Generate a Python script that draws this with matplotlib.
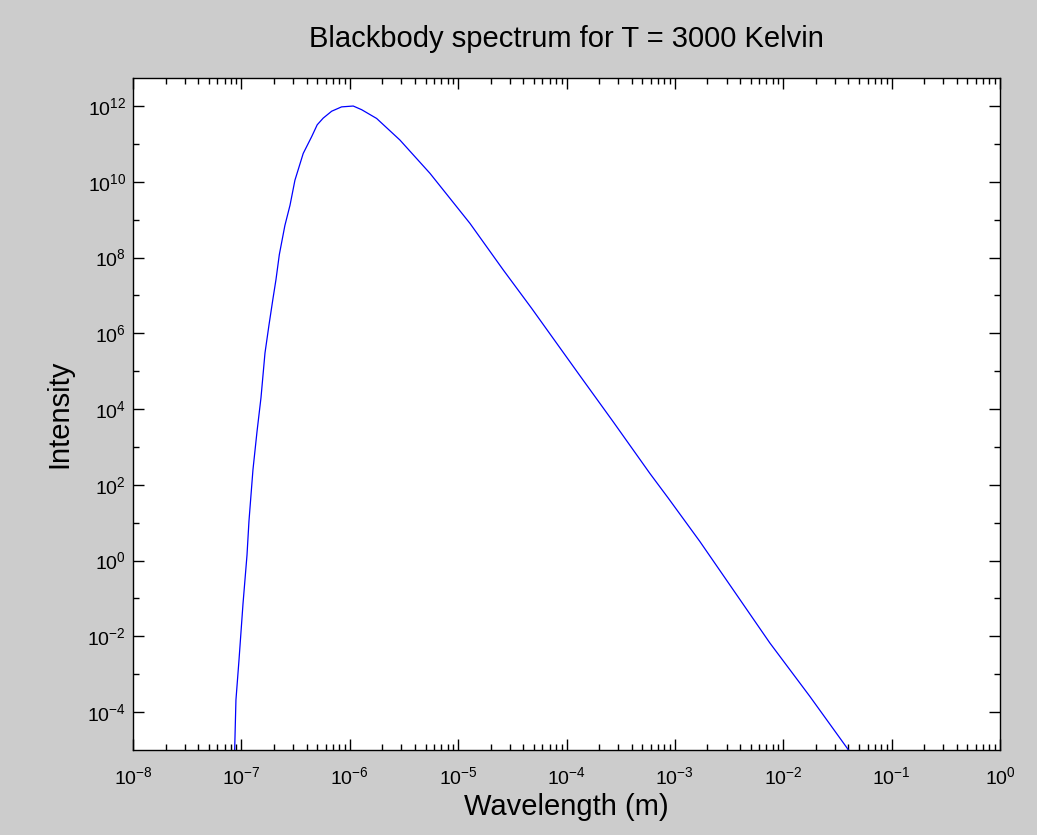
import matplotlib
matplotlib.use("Agg")
import matplotlib.pyplot as plt
from matplotlib.ticker import FixedLocator, LogFormatterMathtext, NullFormatter

# values (wavelength in m, intensity)
wavelength = [8.67e-8, 8.91e-8, 9.51e-8, 1.035e-7, 1.127e-7, 1.175e-7, 1.279e-7,
              1.393e-7, 1.517e-7, 1.651e-7, 1.798e-7, 1.955e-7, 2.085e-7, 2.24e-7,
              2.52e-7, 2.81e-7, 3.12e-7, 3.72e-7, 4.45e-7, 5.01e-7, 5.69e-7,
              6.81e-7, 8.41e-7, 1.077e-6, 1.288e-6, 1.77e-6, 2.90e-6, 5.50e-6,
              1.285e-5, 2.61e-5, 4.76e-5, 1.33e-4, 2.70e-4, 5.88e-4, 8.67e-4,
              1.70e-3, 3.45e-3, 7.52e-3, 1.76e-2, 4.0e-2]
intensity = [1.0e-5, 2.1e-4, 2.4e-3, 7.2e-2, 1.4, 11, 250,
             2.5e3, 2.0e4, 3.0e5, 1.66e6, 8.1e6, 2.6e7, 1.2e8,
             7.0e8, 2.4e9, 1.1e10, 5.6e10, 1.55e11, 3.2e11, 4.8e11,
             7.3e11, 9.5e11, 1.0e12, 8.0e11, 4.7e11, 1.27e11, 1.67e10,
             8.0e8, 4.7e7, 4.6e6, 7.6e4, 4.6e3, 200, 45,
             3.2, 0.17, 6.7e-3, 2.6e-4, 1.0e-5]

x_major = [1e-8, 1e-7, 1e-6, 1e-5, 1e-4, 1e-3, 1e-2, 1e-1, 1e0]
y_major = [1e-4, 1e-2, 1e0, 1e2, 1e4, 1e6, 1e8, 1e10, 1e12]
y_minor = [1e-3, 1e-1, 1e1, 1e3, 1e5, 1e7, 1e9, 1e11]

plt.rcParams['font.family'] = ['Liberation Sans', 'DejaVu Sans']

fig = plt.figure(figsize=(10.37, 8.35), dpi=100, facecolor='#cccccc')
ax = fig.add_axes([133/1037, 85/835, 867/1037, 672/835])
ax.set_facecolor('white')

ax.plot(wavelength, intensity, color='#0000ff', lw=0.9)

ax.set_xscale('log')
ax.set_yscale('log')
ax.set_xlim(1e-8, 1e0)
ax.set_ylim(1e-5, 10**12.74)

ax.xaxis.set_major_locator(FixedLocator(x_major))
x_minor = [m * d for d in x_major[:-1] for m in range(2, 10)]
ax.xaxis.set_minor_locator(FixedLocator(x_minor))
ax.yaxis.set_major_locator(FixedLocator(y_major))
ax.yaxis.set_minor_locator(FixedLocator(y_minor))
ax.xaxis.set_major_formatter(LogFormatterMathtext())
ax.yaxis.set_major_formatter(LogFormatterMathtext())
ax.xaxis.set_minor_formatter(NullFormatter())
ax.yaxis.set_minor_formatter(NullFormatter())

ax.tick_params(which='both', direction='in', top=True, right=True,
               color='black', width=1.0, labelsize=14)
ax.tick_params(which='major', length=8)
ax.tick_params(which='minor', length=4)
ax.tick_params(axis='x', pad=12)
ax.tick_params(axis='y', pad=5)
for s in ax.spines.values():
    s.set_linewidth(1.0)
    s.set_color('black')

ax.set_title('Blackbody spectrum for T = 3000 Kelvin', fontsize=21, pad=22)
ax.set_xlabel('Wavelength (m)', fontsize=21, labelpad=3)
ax.set_ylabel('Intensity', fontsize=21, labelpad=10)

fig.savefig('out.png', dpi=100, facecolor=fig.get_facecolor())
